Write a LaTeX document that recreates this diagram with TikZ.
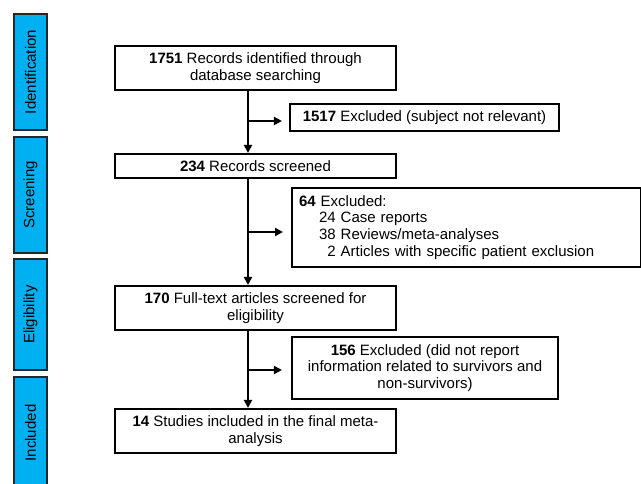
\documentclass[tikz,border=0pt]{standalone}
\usepackage{fontspec}
\setmainfont{Liberation Sans}
\usetikzlibrary{arrows.meta}
\definecolor{phasecol}{HTML}{00B0F0}
\begin{document}
\begin{tikzpicture}[x=1pt,y=-1pt,
  every node/.style={font=\fontsize{15}{16.8}\selectfont},
  box/.style={draw=black,line width=2.1pt,fill=white,inner sep=0pt,align=center},
  phase/.style={draw=black!85,line width=2.1pt,fill=phasecol,inner sep=0pt,rotate=90,minimum height=33pt},
  conn/.style={line width=2.1pt,-{Triangle[length=8pt,width=8pt]}}]
\useasboundingbox[fill=white] (0,0) rectangle (641,484);
% phases
\node[phase,minimum width=116pt] (p1) at (30.5,72) {Identification};
\node[phase,minimum width=116pt] (p2) at (30.5,195) {Screening};
\node[phase,minimum width=111pt] (p3) at (30.5,314.5) {Eligibility};
\node[phase,minimum width=112pt] (p4) at (30.5,433) {Included};
% main boxes
\node[box,minimum width=281pt,minimum height=44pt] (b1) at (255.5,68) {\textbf{1751} Records identified through\\database searching};
\node[box,minimum width=281pt,minimum height=24pt] (b2) at (255.5,166) {\textbf{234} Records screened};
\node[box,minimum width=281pt,minimum height=44pt] (b3) at (255.5,308) {\textbf{170} Full-text articles screened for\\eligibility};
\node[box,minimum width=281pt,minimum height=44pt] (b4) at (255.5,431) {\textbf{14} Studies included in the final meta-\\analysis};
% side boxes
\node[box,minimum width=269pt,minimum height=27pt] (s1) at (424.5,117.5) {\textbf{1517} Excluded (subject not relevant)};
\node[box,anchor=west,minimum height=79pt,inner xsep=7pt,text width=335pt,align=left] (s2) at (291,227.5) {\textbf{64} Excluded:\\\hspace*{20pt}24 Case reports\\\hspace*{20pt}38 Reviews/meta-analyses\\\hspace*{20pt}\phantom{0}2 Articles with specific patient exclusion};
\node[box,minimum width=266pt,minimum height=62pt] (s3) at (425,368) {\textbf{156} Excluded (did not report\\information related to survivors and\\non-survivors)};
% connectors
\coordinate (j1) at (248,121);
\coordinate (j2) at (248,232);
\coordinate (j3) at (248,370);
\draw[conn] (b1.south -| j1) -- (b2.north -| j1);
\draw[conn] (b2.south -| j2) -- (b3.north -| j2);
\draw[conn] (b3.south -| j3) -- (b4.north -| j3);
\draw[conn,shorten >=7pt] (j1) -- (j1 -| s1.west);
\draw[conn,shorten >=8pt] (j2) -- (j2 -| s2.west);
\draw[conn,shorten >=9pt] (j3) -- (j3 -| s3.west);
\end{tikzpicture}
\end{document}
